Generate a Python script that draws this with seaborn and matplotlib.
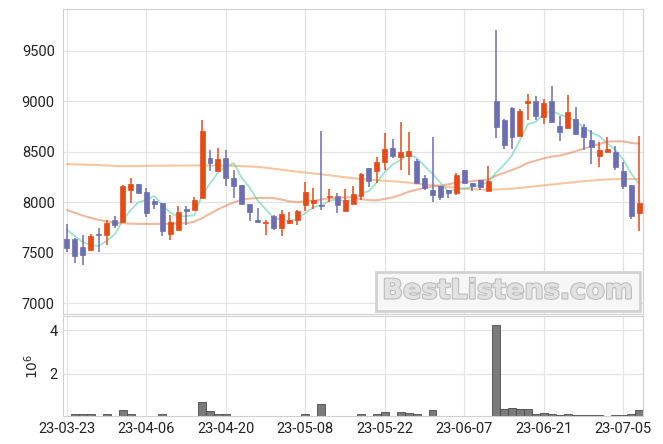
import numpy as np
import pandas as pd
import matplotlib
matplotlib.use('Agg')
import matplotlib.pyplot as plt
import matplotlib.patheffects as pe
import seaborn as sns

# trading days shown on the axis (every 10th bar gets a label)
tick_labels = ['23-03-23', '23-04-06', '23-04-20', '23-05-08',
               '23-05-22', '23-06-07', '23-06-21', '23-07-05']

opens = [7630, 7635, 7556, 7523, 7687, 7678, 7826, 7806, 8122, 8178,
         8099, 8007, 7990, 7684, 7720, 7934, 7918, 8036, 8436, 8305,
         8437, 8238, 8172, 7983, 7826, 7790, 7865, 7740, 7788, 7818,
         7968, 7990, 7974, 8045, 8063, 7907, 7984, 8056, 8337, 8304,
         8395, 8535, 8443, 8454, 8408, 8237, 8122, 8161, 8122, 8093,
         8320, 8192, 8220, 8106, 9000, 8813, 8931, 8656, 8984, 9000,
         8846, 9000, 8752, 8729, 8818, 8739, 8613, 8459, 8500, 8497,
         8307, 8170, 7895]
highs = [7785, 7640, 7674, 7687, 7740, 7826, 7859, 8164, 8237, 8178,
         8138, 8033, 7990, 7875, 7957, 7957, 8049, 8812, 8512, 8536,
         8520, 8321, 8172, 7983, 7941, 7819, 7875, 7924, 7900, 7924,
         8197, 8138, 8700, 8129, 8089, 8133, 8158, 8290, 8337, 8445,
         8680, 8624, 8788, 8698, 8428, 8270, 8643, 8161, 8122, 8287,
         8320, 8192, 8220, 8355, 9705, 8826, 8944, 8918, 9069, 9049,
         9023, 9148, 8851, 9055, 8937, 8772, 8712, 8597, 8640, 8556,
         8400, 8170, 8650]
lows = [7505, 7398, 7378, 7523, 7507, 7576, 7743, 7806, 7990, 8086,
        7852, 7931, 7661, 7628, 7720, 7770, 7918, 8036, 8308, 8305,
        8156, 8040, 7983, 7808, 7793, 7677, 7727, 7663, 7786, 7770,
        7915, 7932, 7924, 8000, 7891, 7907, 7984, 8023, 8148, 8188,
        8320, 8435, 8320, 8270, 8188, 8122, 8004, 8020, 8040, 8073,
        8190, 8110, 8122, 8106, 8633, 8524, 8524, 8656, 8813, 8813,
        8774, 8795, 8603, 8729, 8662, 8513, 8374, 8344, 8492, 8321,
        8131, 7836, 7710]
closes = [7544, 7464, 7474, 7668, 7678, 7793, 7776, 8161, 8181, 8086,
          7891, 7984, 7710, 7803, 7901, 7908, 8016, 8706, 8383, 8430,
          8238, 8162, 7983, 7897, 7799, 7805, 7739, 7884, 7822, 7914,
          8102, 8023, 7964, 8063, 7970, 8020, 8080, 8277, 8205, 8396,
          8525, 8460, 8495, 8505, 8188, 8138, 8072, 8046, 8085, 8271,
          8190, 8160, 8150, 8210, 8747, 8567, 8639, 8902, 9000, 8856,
          8977, 8795, 8695, 8888, 8669, 8646, 8547, 8515, 8525, 8348,
          8155, 7860, 7995]
# volume in millions of shares
volume = [0.05, 0.14, 0.14, 0.14, 0.05, 0.14, 0.06, 0.30, 0.14, 0.06,
          0.06, 0.05, 0.14, 0.06, 0.06, 0.06, 0.06, 0.70, 0.26, 0.12,
          0.12, 0.05, 0.05, 0.05, 0.05, 0.05, 0.05, 0.05, 0.03, 0.05,
          0.12, 0.03, 0.61, 0.05, 0.05, 0.05, 0.05, 0.12, 0.05, 0.12,
          0.22, 0.05, 0.22, 0.16, 0.12, 0.03, 0.30, 0.05, 0.03, 0.05,
          0.05, 0.03, 0.03, 0.05, 4.22, 0.38, 0.42, 0.38, 0.38, 0.15,
          0.20, 0.15, 0.10, 0.15, 0.10, 0.10, 0.10, 0.10, 0.05, 0.10,
          0.10, 0.15, 0.33]

ma5 = [7725, 7661, 7605, 7572, 7566, 7615, 7678, 7815, 7918, 7999,
       8019, 8061, 7970, 7895, 7858, 7861, 7868, 8067, 8183, 8289,
       8355, 8384, 8239, 8142, 8016, 7929, 7845, 7825, 7810, 7833,
       7892, 7949, 7965, 8013, 8024, 8008, 8019, 8082, 8110, 8196,
       8297, 8373, 8416, 8476, 8435, 8357, 8280, 8190, 8106, 8122,
       8133, 8150, 8171, 8196, 8291, 8367, 8463, 8613, 8771, 8793,
       8875, 8906, 8865, 8842, 8804, 8738, 8688, 8652, 8580, 8518,
       8419, 8282, 8178]
ma20 = [7920, 7893, 7866, 7843, 7823, 7808, 7797, 7790, 7786, 7784,
        7783, 7783, 7784, 7785, 7786, 7790, 7805, 7840, 7885, 7928,
        7963, 7997, 8023, 8034, 8040, 8041, 8039, 8025, 8007, 7999,
        8009, 8011, 8024, 8037, 8040, 8046, 8049, 8028, 8019, 8017,
        8032, 8046, 8072, 8102, 8122, 8139, 8155, 8163, 8176, 8194,
        8199, 8206, 8215, 8222, 8261, 8288, 8316, 8348, 8387, 8410,
        8433, 8450, 8460, 8479, 8503, 8528, 8552, 8575, 8597, 8601,
        8600, 8585, 8577]
ma120 = [8375, 8373, 8371, 8368, 8365, 8362, 8358, 8355, 8355, 8357,
         8358, 8360, 8360, 8361, 8361, 8361, 8362, 8362, 8362, 8361,
         8360, 8358, 8355, 8352, 8348, 8340, 8330, 8320, 8310, 8300,
         8292, 8283, 8274, 8265, 8255, 8245, 8236, 8228, 8222, 8216,
         8210, 8205, 8200, 8192, 8183, 8175, 8167, 8158, 8150, 8140,
         8132, 8127, 8124, 8123, 8124, 8128, 8133, 8140, 8148, 8156,
         8165, 8174, 8182, 8190, 8198, 8206, 8213, 8219, 8223, 8226,
         8228, 8228, 8227]

df = pd.DataFrame({'open': opens, 'high': highs, 'low': lows, 'close': closes,
                   'volume': volume, 'ma5': ma5, 'ma20': ma20, 'ma120': ma120})
df['idx'] = np.arange(len(df))
up = df['close'] >= df['open']

UP_COLOR = '#e64a19'
DOWN_COLOR = '#6b6fb2'

sns.set_style('whitegrid', {'grid.color': '#e3e3e3', 'axes.edgecolor': '#d0d0d0'})
plt.rcParams['font.family'] = ['Roboto', 'DejaVu Sans']

fig, (ax, axv) = plt.subplots(2, 1, sharex=True, figsize=(6.63, 4.44), dpi=100,
                              gridspec_kw={'height_ratios': [3.05, 1]})
fig.subplots_adjust(left=0.095, right=0.970, top=0.980, bottom=0.063, hspace=0.012)

# moving averages
sns.lineplot(data=df, x='idx', y='ma120', ax=ax, color='#f0a060', alpha=0.6, lw=1.5)
sns.lineplot(data=df, x='idx', y='ma20', ax=ax, color='#e58a60', alpha=0.6, lw=1.5)
sns.lineplot(data=df, x='idx', y='ma5', ax=ax, color='#5fcfa5', alpha=0.6, lw=1.3)

# candles
colors = np.where(up, UP_COLOR, DOWN_COLOR)
ax.vlines(df['idx'], df['low'], df['high'], colors=colors, lw=1.1, zorder=3)
body_bottom = np.minimum(df['open'], df['close'])
body_h = np.maximum(np.abs(df['close'] - df['open']), 8)
ax.bar(df['idx'], body_h, bottom=body_bottom, width=0.62, color=colors,
       edgecolor=colors, lw=0.5, zorder=4)

ax.set_ylim(6895, 9912)
ax.set_yticks([7000, 7500, 8000, 8500, 9000, 9500])
ax.set_xlim(-0.5, len(df) - 0.5)
ax.set_xlabel('')
ax.set_ylabel('')
ax.tick_params(axis='y', labelsize=10.5, length=0, pad=6, colors='#222222')
ax.tick_params(axis='x', length=0, labelbottom=False)

ax.text(0.983, 0.03, 'BestListens.com', transform=ax.transAxes, ha='right', va='bottom',
        fontsize=19.5, fontweight='bold', color='#e2e2e2', family='DejaVu Sans',
        path_effects=[pe.withStroke(linewidth=1.6, foreground='#bdbdbd')],
        bbox=dict(boxstyle='square,pad=0.25', facecolor='#f6f6f6', edgecolor='#d2d2d2', lw=2),
        zorder=6)

# volume
axv.bar(df['idx'], df['volume'], width=1.0, color='#7a7a7a', edgecolor='#4a4a4a', lw=0.6)
axv.set_ylim(0.04, 4.65)
axv.set_yticks([2, 4])
axv.set_ylabel(r'$10^6$', fontsize=10, labelpad=6)
axv.set_xticks(np.arange(0, len(df), 10))
axv.set_xticklabels(tick_labels)
axv.tick_params(axis='both', labelsize=10.5, length=0, pad=4, colors='#222222')

for a in (ax, axv):
    a.grid(True, color='#e3e3e3', lw=0.9)
    a.set_axisbelow(True)
    for s in a.spines.values():
        s.set_color('#d0d0d0')

plt.savefig('out.png', dpi=100)
plt.close()
